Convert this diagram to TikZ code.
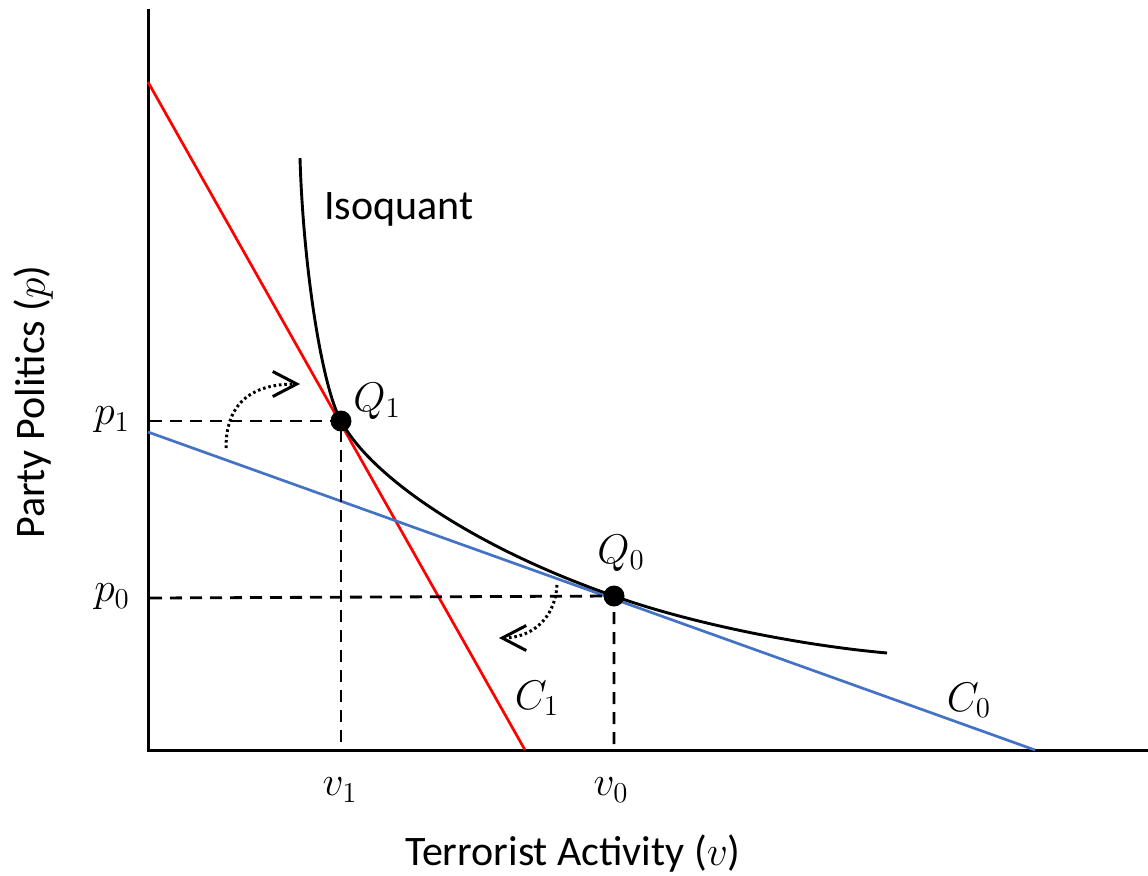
\documentclass[tikz,border=0pt]{standalone}
\usepackage[no-math]{fontspec}
\setmainfont{Carlito}
\usetikzlibrary{arrows.meta}
\definecolor{cblue}{RGB}{68,114,196}
\tikzset{
  axisline/.style={line width=1.5pt, line cap=rect},
  budget/.style={line width=1.35pt},
  iso/.style={line width=1.45pt},
  guide/.style={line width=1.4pt, dash pattern=on 6pt off 4pt},
  shiftarrow/.style={line width=1.5pt, dash pattern=on 1.3pt off 1.4pt,
    -{Straight Barb[length=12pt,width=12.5pt,line width=1.5pt]}},
  pt/.style={circle, fill=black, inner sep=0pt, minimum size=10.5pt},
  lab/.style={font=\fontsize{20.5}{22}\selectfont, inner sep=0pt},
  txt/.style={font=\fontsize{21}{23}\selectfont, inner sep=0pt},
}
\begin{document}
\begin{tikzpicture}[x=0.5pt,y=-0.5pt]
\useasboundingbox (0,0) rectangle (1148,875);
% axes
\coordinate (O) at (148,750);
\coordinate (ytop) at (148,10);
\coordinate (xend) at (1148,750);
\draw[axisline] (ytop) -- (O) -- (xend);
% budget lines
\coordinate (r1) at (148,82);
\coordinate (r2) at (525,750);
\coordinate (b1) at (148,432);
\coordinate (b2) at (1035,750);
\draw[budget, red] (r1) -- (r2);
\draw[budget, cblue] (b1) -- (b2);
% points
\node[pt] (Q1) at (341,421) {};
\node[pt] (Q0) at (614,596) {};
% isoquant
\coordinate (iso0) at (300,158);
\coordinate (iso3) at (887,653);
\draw[iso] (iso0) .. controls (303.3,268) and (322,387) .. (Q1.center)
  .. controls (373.4,480.6) and (482.4,550.6) .. (Q0.center)
  .. controls (686.5,622) and (795.7,644.8) .. (iso3);
% axis coordinates
\coordinate (p1a) at (150,421);
\coordinate (p0a) at (150,598);
\coordinate (v1a) at (341,750);
\coordinate (v0a) at (614,750);
\draw[guide] (p1a) -- (Q1.center) -- (v1a);
\draw[guide] (p0a) -- (Q0.center) -- (v0a);
% shift arrows
\coordinate (a1s) at (226,448);
\coordinate (a1e) at (300,384);
\draw[shiftarrow] (a1s) .. controls (226,400) and (255,384) .. (a1e);
\coordinate (a2s) at (557,585);
\coordinate (a2e) at (499,638);
\draw[shiftarrow] (a2s) .. controls (555,620) and (530,638) .. (a2e);
% labels
\node[lab] (lp1) at (112,420) {$p_1$};
\node[lab] (lp0) at (112,597) {$p_0$};
\node[lab] (lv1) at (340,790) {$v_1$};
\node[lab] (lv0) at (611,790) {$v_0$};
\node[lab] (lQ1) at (377,401) {$Q_1$};
\node[lab] (lQ0) at (621,553) {$Q_0$};
\node[lab] (lC1) at (537,698) {$C_1$};
\node[lab] (lC0) at (969,700) {$C_0$};
\node[txt, anchor=base west] (liso) at (324,219) {Isoquant};
\node[txt, anchor=base] (lx) at (573,865) {Terrorist Activity ($v$)};
\node[txt, anchor=base, rotate=90] (ly) at (45,402) {Party Politics ($p$)};
\end{tikzpicture}
\end{document}
